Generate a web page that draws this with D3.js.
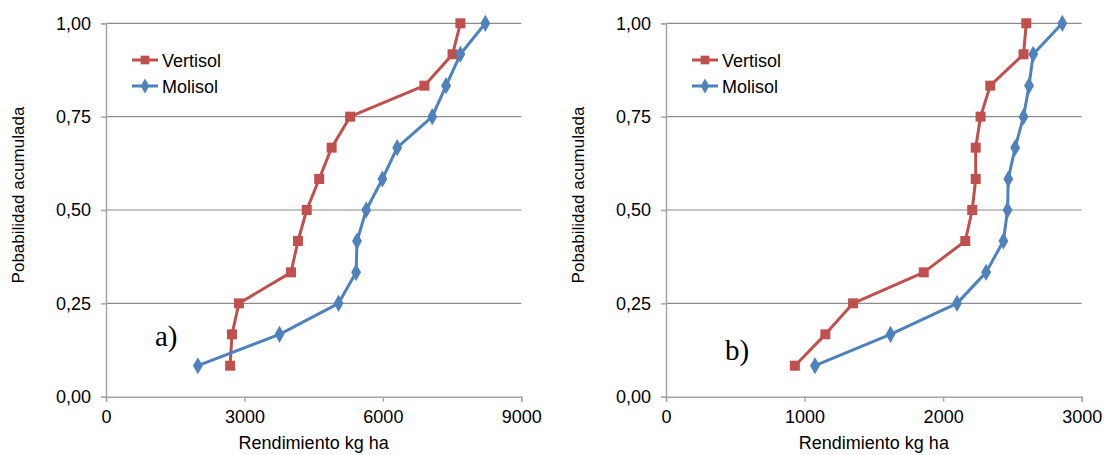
<!DOCTYPE html>
<html>
<head>
<meta charset="utf-8">
<script src="https://cdn.jsdelivr.net/npm/d3@7"></script>
<style>
  body { margin: 0; background: #fff; }
  svg { display: block; font-family: "Liberation Sans", Arial, sans-serif; }
</style>
</head>
<body>
<div id="chart"></div>
<script>
// cumulative probability for the 12 ranked yields
var prob = [0.083, 0.167, 0.25, 0.333, 0.417, 0.5, 0.583, 0.667, 0.75, 0.833, 0.917, 1.0];

// a) yields, kg/ha
var vertisolA = [2690, 2730, 2880, 4010, 4160, 4350, 4620, 4890, 5290, 6900, 7510, 7680];
var molisolA  = [1990, 3760, 5040, 5420, 5440, 5640, 5990, 6310, 7070, 7370, 7680, 8220];
var xTicksA = [0, 3000, 6000, 9000];

// b) yields, kg/ha
var vertisolB = [930, 1150, 1350, 1860, 2160, 2210, 2235, 2235, 2270, 2340, 2580, 2600];
var molisolB  = [1075, 1620, 2100, 2310, 2435, 2465, 2470, 2520, 2580, 2620, 2650, 2860];
var xTicksB = [0, 1000, 2000, 3000];

var yTicks = [0, 0.25, 0.5, 0.75, 1];
var seriesNames = ["Vertisol", "Molisol"];

var red = "#C0504D", blue = "#4F81BD";
var gridColor = "#8c8c8c", axisColor = "#a6a6a6";

var width = 1105, height = 455;

var svg = d3.select("#chart").append("svg")
    .attr("width", width)
    .attr("height", height);

var fmtY = function(d) { return d3.format(".2f")(d).replace(".", ","); };

function drawPanel(opts) {
  var x = d3.scaleLinear().domain([opts.xTicks[0], opts.xTicks[opts.xTicks.length - 1]])
      .range([opts.left, opts.right]);
  var y = d3.scaleLinear().domain([0, 1]).range([396.7, 23.3]);

  var g = svg.append("g");

  // horizontal gridlines
  g.selectAll(".grid").data(yTicks.filter(function(d) { return d > 0; }))
    .enter().append("line")
      .attr("x1", opts.left).attr("x2", opts.right)
      .attr("y1", function(d) { return y(d); })
      .attr("y2", function(d) { return y(d); })
      .attr("stroke", gridColor).attr("stroke-width", 1.2);

  // y axis
  var yAxis = g.append("g")
      .attr("transform", "translate(" + opts.left + ",0)")
      .call(d3.axisLeft(y).tickValues(yTicks).tickFormat(fmtY).tickSizeOuter(0).tickSize(5).tickPadding(10));
  // x axis
  var xAxis = g.append("g")
      .attr("transform", "translate(0," + y(0) + ")")
      .call(d3.axisBottom(x).tickValues(opts.xTicks).tickFormat(d3.format("d")).tickSizeOuter(0).tickSize(5).tickPadding(9));

  [yAxis, xAxis].forEach(function(a) {
    a.select(".domain").attr("stroke", axisColor).attr("stroke-width", 1.5);
    a.selectAll(".tick line").attr("stroke", axisColor).attr("stroke-width", 1.5);
    a.selectAll("text").attr("fill", "#000").style("font-size", "18px")
      .style("font-family", "Liberation Sans, Arial, sans-serif");
  });

  // axis titles
  g.append("text")
    .attr("transform", "translate(" + (opts.left - 82) + ",195) rotate(-90)")
    .attr("text-anchor", "middle")
    .style("font-size", "17px")
    .text("Pobabilidad acumulada");
  g.append("text")
    .attr("x", (opts.left + opts.right) / 2)
    .attr("y", 449)
    .attr("text-anchor", "middle")
    .style("font-size", "18px")
    .text("Rendimiento kg ha");

  var line = d3.line()
      .x(function(d) { return x(d[0]); })
      .y(function(d) { return y(d[1]); });

  var series = [
    { vals: opts.vertisol, color: red, symbol: d3.symbolSquare, size: 100 },
    { vals: opts.molisol, color: blue, symbol: d3.symbolDiamond, size: 85 }
  ];

  series.forEach(function(s) {
    var pts = s.vals.map(function(v, i) { return [v, prob[i]]; });
    g.append("path")
      .datum(pts)
      .attr("fill", "none")
      .attr("stroke", s.color)
      .attr("stroke-width", 3)
      .attr("stroke-linejoin", "round")
      .attr("d", line);
    g.selectAll(null).data(pts).enter().append("path")
      .attr("transform", function(d) { return "translate(" + x(d[0]) + "," + y(d[1]) + ")"; })
      .attr("d", d3.symbol().type(s.symbol).size(s.size))
      .attr("fill", s.color);
  });

  // legend
  var lg = g.append("g").attr("transform", "translate(" + (opts.left + 26) + ",60)");
  series.forEach(function(s, i) {
    var row = lg.append("g").attr("transform", "translate(0," + (i * 26) + ")");
    row.append("line").attr("x1", 0).attr("x2", 26)
      .attr("stroke", s.color).attr("stroke-width", 3);
    row.append("path").attr("transform", "translate(13,0)")
      .attr("d", d3.symbol().type(s.symbol).size(s.size * 0.75))
      .attr("fill", s.color);
    row.append("text").attr("x", 30).attr("y", 6.5)
      .style("font-size", "18px")
      .text(seriesNames[i]);
  });

  // panel label
  g.append("text")
    .attr("x", opts.labelX).attr("y", opts.labelY)
    .style("font-family", "Liberation Serif, Times New Roman, serif")
    .style("font-size", "29px")
    .text(opts.label);
}

drawPanel({ left: 106, right: 521.3, xTicks: xTicksA, vertisol: vertisolA, molisol: molisolA,
            label: "a)", labelX: 155, labelY: 346 });
drawPanel({ left: 666, right: 1081.7, xTicks: xTicksB, vertisol: vertisolB, molisol: molisolB,
            label: "b)", labelX: 725, labelY: 360 });
</script>
</body>
</html>
